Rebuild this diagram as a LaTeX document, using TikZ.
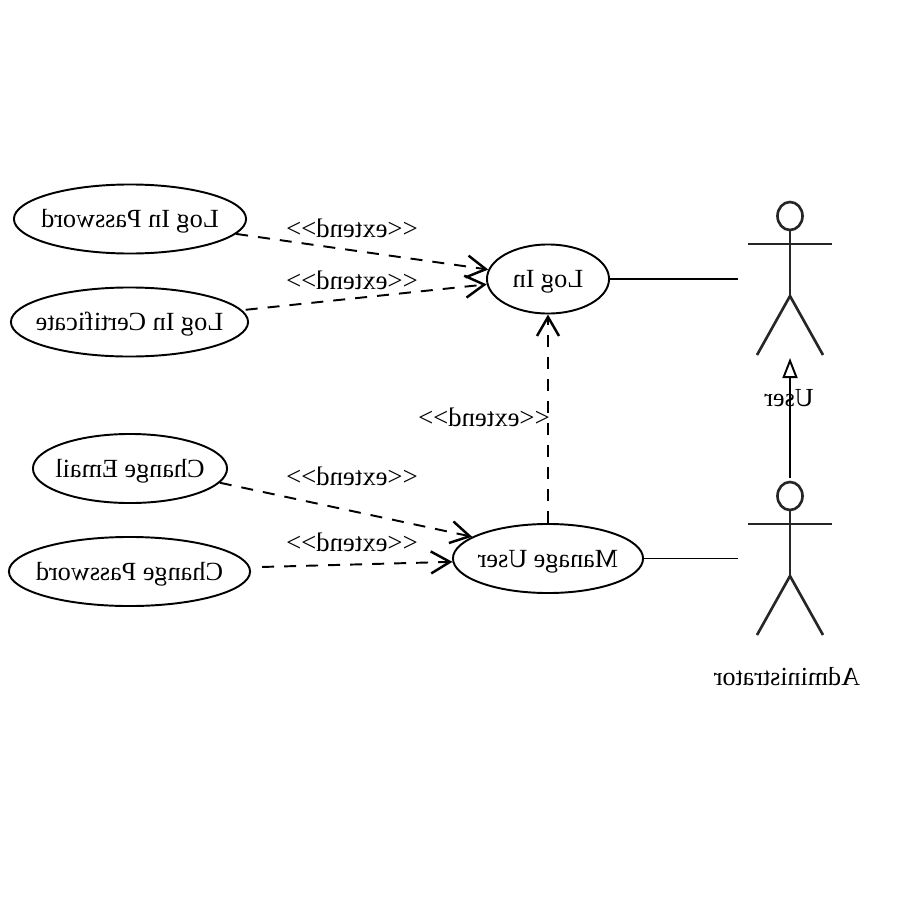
\documentclass[tikz,border=0pt]{standalone}
\usepackage{fontspec}
\usepackage{graphicx}
\setmainfont{Liberation Serif}[Ligatures=NoCommon]
\usetikzlibrary{arrows.meta,shapes.geometric}
\newcommand{\mirrored}[1]{\makebox[0pt]{\reflectbox{#1}}}
\newcommand{\extendtext}{\reflectbox{{<}{<}extend{>}{>}}}
\tikzset{
	usecase/.style={ellipse,draw=black,line width=0.55pt,inner sep=0pt,minimum height=0.69cm,text height=5pt,text depth=0pt,font=\fontsize{7.45}{9}\selectfont},
	extendlabel/.style={inner sep=0pt,font=\fontsize{7.6}{9}\selectfont},
	actorlabel/.style={inner sep=0pt,font=\fontsize{7.4}{9}\selectfont},
	extendline/.style={draw=black,line width=0.55pt,dash pattern=on 0.12cm off 0.1cm,-{Straight Barb[length=0.19cm,width=0.22cm,line width=0.7pt]}},
	stickman/.style={draw=black!85,line width=0.75pt},
	plainline/.style={draw=black,line width=0.55pt}
}
\begin{document}
\begin{tikzpicture}[x=0.01cm,y=-0.01cm]
	\useasboundingbox (0,0) rectangle (900,900);
	\node[usecase,minimum width=2.32cm](password) at (130,219){\mirrored{Log In Password}};
	\node[usecase,minimum width=2.37cm](certificate) at (129.5,322){\mirrored{Log In Certificate}};
	\node[usecase,minimum width=1.94cm](email) at (130,468.5){\mirrored{Change Email}};
	\node[usecase,minimum width=2.41cm](changepw) at (129.5,571.5){\mirrored{Change Password}};
	\node[usecase,minimum width=1.22cm](login) at (548,279){\mirrored{Log In}};
	\node[usecase,minimum width=1.90cm](manage) at (548,558.5){\mirrored{Manage User}};
	\node[extendlabel](ext1) at (352,228){\extendtext};
	\node[extendlabel](ext2) at (352,280){\extendtext};
	\node[extendlabel](ext3) at (352,476){\extendtext};
	\node[extendlabel](ext4) at (352,542){\extendtext};
	\node[extendlabel](ext5) at (484,417){\extendtext};
	\node[actorlabel](userlabel) at (789,398){\reflectbox{User}};
	\node[actorlabel](adminlabel) at (787,677){\reflectbox{Administrator}};
	% user
	\node[ellipse,stickman,inner sep=0pt,minimum width=0.25cm,minimum height=0.28cm](userhead) at (790,216){};
	\coordinate (userhip) at (790,296);
	\coordinate (userport) at (738,279);
	\coordinate (userfoot) at (790,358);
	\draw[stickman] (userhead)--(userhip);
	\draw[stickman] (748,244)--(832,244);
	\draw[stickman] (757,355)--(userhip)--(823,355);
	% administrator
	\node[ellipse,stickman,inner sep=0pt,minimum width=0.25cm,minimum height=0.28cm](adminhead) at (790,496){};
	\coordinate (adminhip) at (790,576);
	\coordinate (adminport) at (738,558.5);
	\coordinate (admintop) at (790,478);
	\draw[stickman] (adminhead)--(adminhip);
	\draw[stickman] (748,524)--(832,524);
	\draw[stickman] (757,635)--(adminhip)--(823,635);
	% connectors
	\draw[plainline] (login)--(userport);
	\draw[plainline] (manage)--(adminport);
	\draw[plainline,-{Triangle[open,length=0.2cm,width=0.15cm,fill=white]}] (admintop)--(userfoot);
	\draw[extendline] (password.-8.7)--(login.171);
	\draw[extendline,shorten <=1pt] (certificate.6)--(login.185);
	\draw[extendline] (email.-9.5)--(manage.164);
	\draw[extendline,shorten <=3.4pt] (changepw.2)--(manage.182);
	\draw[extendline] (manage)--(login);
\end{tikzpicture}
\end{document}
